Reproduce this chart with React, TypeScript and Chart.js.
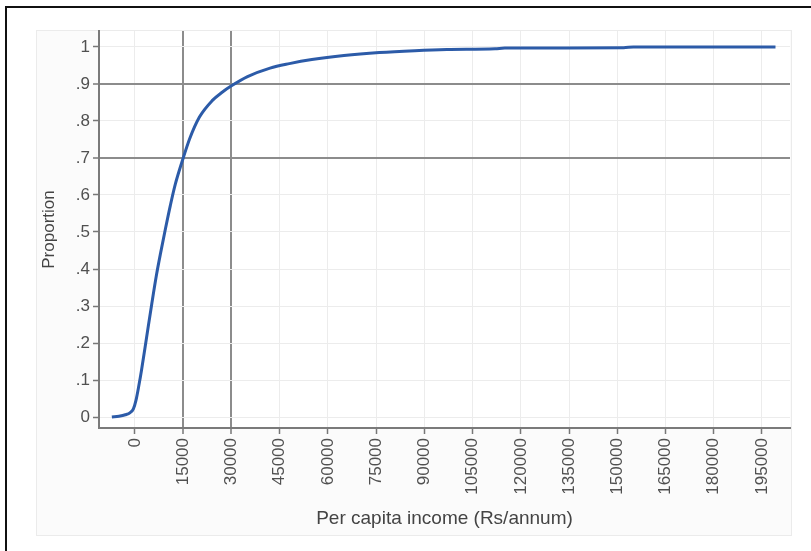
import React, { useEffect, useRef } from "react";
import { Chart, registerables } from "chart.js";

Chart.register(...registerables);

// Cumulative distribution of per capita income
const incomeValues = [
  -7200, -5000, -3000, -1500, -500, 300, 1200, 2000, 3600, 5200, 6700, 8000,
  9500, 11000, 12500, 15000, 17000, 20000, 24000, 27000, 30000, 35000,
  42000, 48000, 55000, 65000, 76000, 87000, 97000, 112000, 115000, 152000,
  155000, 199200,
];
const proportionValues = [
  0, 0.002, 0.006, 0.012, 0.022, 0.045, 0.085, 0.125, 0.215, 0.305, 0.385,
  0.445, 0.51, 0.572, 0.628, 0.7, 0.752, 0.81, 0.855, 0.877, 0.895,
  0.92, 0.943, 0.955, 0.966, 0.977, 0.985, 0.99, 0.993, 0.995, 0.997, 0.998,
  1.0, 1.0,
];

const xTickValues = [
  0, 15000, 30000, 45000, 60000, 75000, 90000, 105000, 120000, 135000, 150000,
  165000, 180000, 195000,
];
const yTickValues = [0, 0.1, 0.2, 0.3, 0.4, 0.5, 0.6, 0.7, 0.8, 0.9, 1];
const yTickLabels = ["0", ".1", ".2", ".3", ".4", ".5", ".6", ".7", ".8", ".9", "1"];

const xRefLines = [15000, 30000];
const yRefLines = [0.7, 0.9];

const xTitle = "Per capita income (Rs/annum)";
const yTitle = "Proportion";

const FONT = "'Liberation Sans', Arial, sans-serif";

export default function App() {
  const canvasRef = useRef<HTMLCanvasElement | null>(null);

  useEffect(() => {
    if (!canvasRef.current) return;
    const isRef = (list: number[], v: number) =>
      list.some((r) => Math.abs(r - v) < 1e-6);

    const plotBg = {
      id: "plotBg",
      beforeDraw(chart: any) {
        const { ctx, chartArea } = chart;
        ctx.save();
        ctx.fillStyle = "#ffffff";
        ctx.fillRect(
          chartArea.left,
          chartArea.top,
          chartArea.right - chartArea.left,
          chartArea.bottom - chartArea.top
        );
        ctx.restore();
      },
    };

    const chart = new Chart(canvasRef.current, {
      type: "line",
      data: {
        datasets: [
          {
            data: incomeValues.map((x, i) => ({ x, y: proportionValues[i] })),
            borderColor: "#2c5ba8",
            borderWidth: 3,
            pointRadius: 0,
            fill: false,
            cubicInterpolationMode: "monotone",
          },
        ],
      },
      plugins: [plotBg],
      options: {
        animation: false,
        responsive: false,
        events: [],
        layout: { padding: { left: 36, top: 31, right: 21, bottom: 0 } },
        plugins: {
          legend: { display: false },
          tooltip: { enabled: false },
        },
        scales: {
          x: {
            type: "linear",
            min: -11196,
            max: 203712,
            afterBuildTicks: (axis: any) => {
              axis.ticks = xTickValues.map((value) => ({ value }));
            },
            afterFit: (axis: any) => {
              axis.height = 123;
            },
            ticks: {
              autoSkip: false,
              minRotation: 90,
              maxRotation: 90,
              padding: 4,
              color: "#505050",
              font: { family: FONT, size: 17 },
              callback: (v: any) => String(v),
            },
            grid: {
              color: (ctx: any) =>
                ctx.tick && isRef(xRefLines, ctx.tick.value) ? "#8c8c8c" : "#ececec",
              lineWidth: (ctx: any) =>
                ctx.tick && isRef(xRefLines, ctx.tick.value) ? 2 : 1,
              tickColor: "#777777",
              tickLength: 6,
              tickWidth: 1.5,
            },
            border: { color: "#7a7a7a", width: 2 },
            title: {
              display: true,
              text: xTitle,
              color: "#444444",
              font: { family: FONT, size: 19 },
              padding: { top: 0, bottom: 21 },
            },
          },
          y: {
            type: "linear",
            min: -0.0297,
            max: 1.0432,
            afterBuildTicks: (axis: any) => {
              axis.ticks = yTickValues.map((value) => ({ value }));
            },
            afterFit: (axis: any) => {
              axis.width = 63;
            },
            ticks: {
              padding: 3,
              color: "#505050",
              font: { family: FONT, size: 17 },
              callback: (v: any) => {
                const i = yTickValues.findIndex((t) => Math.abs(t - Number(v)) < 1e-6);
                return i >= 0 ? yTickLabels[i] : "";
              },
            },
            grid: {
              color: (ctx: any) =>
                ctx.tick && isRef(yRefLines, ctx.tick.value) ? "#8c8c8c" : "#ececec",
              lineWidth: (ctx: any) =>
                ctx.tick && isRef(yRefLines, ctx.tick.value) ? 2 : 1,
              tickColor: "#777777",
              tickLength: 6,
              tickWidth: 1.5,
            },
            border: { color: "#7a7a7a", width: 2 },
            title: {
              display: true,
              text: yTitle,
              color: "#444444",
              font: { family: FONT, size: 17 },
              padding: { top: 3, bottom: 0 },
            },
          },
        },
      } as any,
    });
    return () => chart.destroy();
  }, []);

  return (
    <div
      style={{
        position: "fixed",
        left: 0,
        top: 0,
        width: 811,
        height: 551,
        overflow: "hidden",
        background: "#ffffff",
      }}
    >
      <div
        style={{
          position: "absolute",
          left: 5,
          top: 6,
          width: 900,
          height: 700,
          borderLeft: "2px solid #111111",
          borderTop: "2px solid #111111",
          boxSizing: "border-box",
        }}
      />
      <div
        style={{
          position: "absolute",
          left: 36,
          top: 30,
          width: 756,
          height: 506,
          border: "1px solid #ebebeb",
          background: "#fbfbfb",
          boxSizing: "border-box",
        }}
      />
      <canvas
        ref={canvasRef}
        width={811}
        height={551}
        style={{ position: "absolute", left: 0, top: 0, width: 811, height: 551 }}
      />
    </div>
  );
}
